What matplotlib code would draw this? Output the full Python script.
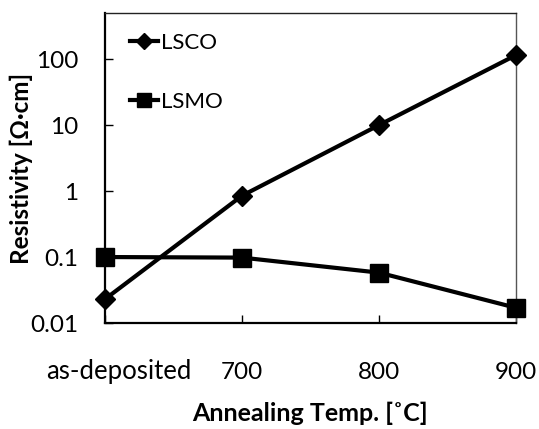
import matplotlib
matplotlib.use("Agg")
import matplotlib.pyplot as plt
from matplotlib.transforms import ScaledTranslation

categories = ["as-deposited", "700", "800", "900"]
lsco = [0.023, 0.85, 10.0, 115.0]
lsmo = [0.10, 0.098, 0.058, 0.017]
yticks = [0.01, 0.1, 1, 10, 100]
ytick_labels = ["0.01", "0.1", "1", "10", "100"]

plt.rcParams['font.family'] = ['Lato', 'DejaVu Sans']

fig = plt.figure(figsize=(5.39, 4.29), dpi=100)
ax = fig.add_axes([105/539, 1-323/429, (516-105)/539, (323-13)/429])

x = list(range(len(categories)))
ax.plot(x, lsco, color='black', lw=3, marker='D', ms=10, label='LSCO', clip_on=False, zorder=3)
ax.plot(x, lsmo, color='black', lw=3, marker='s', ms=12.5, label='LSMO', clip_on=False, zorder=3)

ax.set_yscale('log')
ax.set_ylim(0.01, 500)
ax.set_xlim(0, 3)
ax.set_yticks(yticks)
ax.set_yticklabels(ytick_labels)
ax.minorticks_off()
ax.set_xticks(x)
ax.set_xticklabels(categories)

ax.tick_params(axis='y', direction='in', length=6, width=1, labelsize=17.5, pad=19)
ax.tick_params(axis='x', direction='in', length=6, width=1, labelsize=17.5, pad=28)
# shift as-deposited label
lab = ax.get_xticklabels()[0]
lab.set_transform(lab.get_transform() + ScaledTranslation(14/100, 3/100, fig.dpi_scale_trans))
lab.set_fontsize(18.5)

for s in ['left', 'bottom']:
    ax.spines[s].set_linewidth(1.6)
    ax.spines[s].set_color('black')
ax.spines['top'].set_linewidth(1)
ax.spines['top'].set_color('#222222')
ax.spines['right'].set_linewidth(1)
ax.spines['right'].set_color('#555555')

ax.set_ylabel('Resistivity [Ω·cm]', fontsize=17.5, fontweight='bold', va='center')
ax.yaxis.set_label_coords(-84/411, 0.5)
ax.set_xlabel('Annealing Temp. [˚C]', fontsize=18, fontweight='bold', labelpad=13)

leg = ax.legend(loc='upper left', bbox_to_anchor=(0.038, 0.965), frameon=False, fontsize=16,
                handlelength=1.3, handletextpad=0.1, labelspacing=1.75, borderaxespad=0,
                markerscale=0.8)

fig.savefig('out.png', dpi=100)
